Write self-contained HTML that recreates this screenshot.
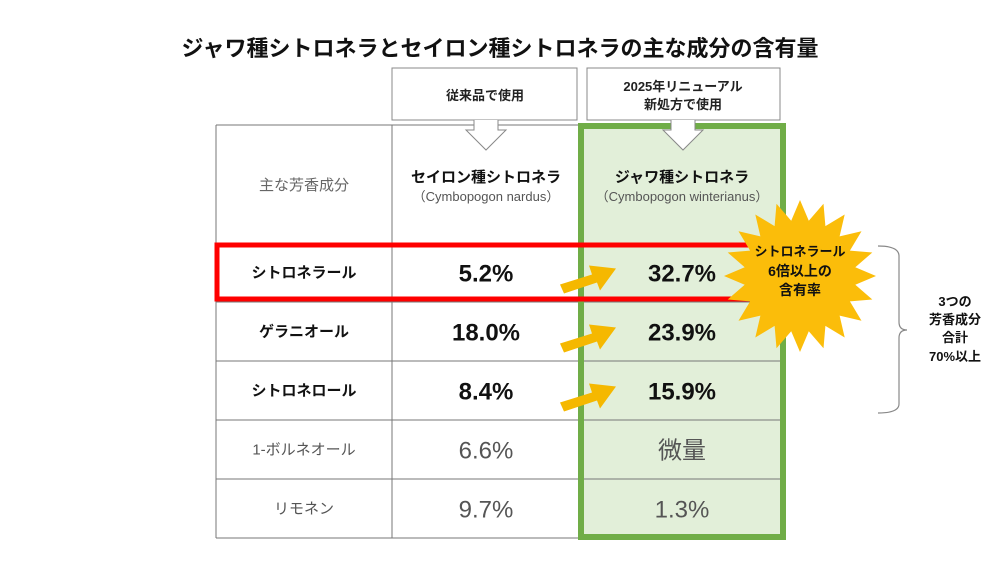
<!DOCTYPE html>
<html><head><meta charset="utf-8"><style>
body{margin:0;background:#fff}
svg text{font-family:"Liberation Sans","Noto Sans CJK JP",sans-serif}
</style></head><body>
<svg width="1000" height="563" viewBox="0 0 1000 563">
<rect width="1000" height="563" fill="#fff"/>
<text x="500" y="56" text-anchor="middle" font-size="22" font-weight="bold" fill="#111">ジャワ種シトロネラとセイロン種シトロネラの主な成分の含有量</text>

<g>
<rect x="581" y="126" width="202" height="411" fill="#e2efd9"/>
</g>
<g id="grid" stroke="#777" stroke-width="1" fill="none"></g>

<g>
<rect x="392" y="68" width="185" height="52" fill="#fff" stroke="#888"/>
<path d="M474 120 L474 130 L466 130 L486 150 L506 130 L498 130 L498 120" fill="#fff" stroke="#888"/>
<text x="485" y="100" text-anchor="middle" font-size="13" font-weight="bold" fill="#222">従来品で使用</text>
</g>

<rect x="581" y="126" width="202" height="411" fill="none" stroke="#70ad47" stroke-width="6"/>

<g>
<rect x="587" y="68" width="193" height="52" fill="#fff" stroke="#888"/>
<path d="M671 120 L671 130 L663 130 L683 150 L703 130 L695 130 L695 120" fill="#fff" stroke="#888"/>
<text x="683" y="91" text-anchor="middle" font-size="13" font-weight="bold" fill="#222">2025年リニューアル</text>
<text x="683" y="109" text-anchor="middle" font-size="13" font-weight="bold" fill="#222">新処方で使用</text>
</g>

<text x="304" y="190" text-anchor="middle" font-size="15" fill="#666">主な芳香成分</text>
<text x="486" y="182" text-anchor="middle" font-size="15" font-weight="bold" fill="#111">セイロン種シトロネラ</text>
<text x="486" y="201" text-anchor="middle" font-size="13" fill="#555">（Cymbopogon nardus）</text>
<text x="682" y="182" text-anchor="middle" font-size="15" font-weight="bold" fill="#111">ジャワ種シトロネラ</text>
<text x="682" y="201" text-anchor="middle" font-size="13" fill="#555">（Cymbopogon winterianus）</text>

<g id="rows"></g>

<rect x="217" y="245" width="560" height="54" fill="none" stroke="#ff0000" stroke-width="5"/>

<g>
<polygon id="star" fill="#fbbd0a"/>
<text x="800" y="256" text-anchor="middle" font-size="13" font-weight="bold" fill="#111">シトロネラール</text>
<text x="800" y="276" text-anchor="middle" font-size="14" font-weight="bold" fill="#111">6倍以上の</text>
<text x="800" y="295" text-anchor="middle" font-size="14" font-weight="bold" fill="#111">含有率</text>
</g>

<path d="M878 246 Q899 246 899 256 L899 322 Q899 330 907 330 Q899 330 899 338 L899 404 Q899 413 878 413" fill="none" stroke="#888" stroke-width="1.2"/>
<g font-size="13" font-weight="bold" fill="#111" text-anchor="middle">
<text x="955" y="306">3つの</text>
<text x="955" y="324">芳香成分</text>
<text x="955" y="342">合計</text>
<text x="955" y="361">70%以上</text>
</g>
</svg>
<script>
const components=["シトロネラール","ゲラニオール","シトロネロール","1-ボルネオール","リモネン"];
const ceylonValues=["5.2%","18.0%","8.4%","6.6%","9.7%"];
const javaValues=["32.7%","23.9%","15.9%","微量","1.3%"];
const boldRows=[true,true,true,false,false];
const NS="http://www.w3.org/2000/svg";
const grid=document.getElementById('grid'),rows=document.getElementById('rows');
const x0=216,x1=392,x2=581,x3=783,yTop=125,hb=243,rh=59;
function ln(ax,ay,bx,by){const l=document.createElementNS(NS,'line');l.setAttribute('x1',ax);l.setAttribute('y1',ay);l.setAttribute('x2',bx);l.setAttribute('y2',by);


grid.appendChild(l);}
const yBottom=hb+rh*components.length;
[x0,x1,x2,x3].forEach(x=>ln(x,yTop,x,yBottom));
ln(x0,yTop,x3,yTop);
for(let i=0;i<=components.length;i++)ln(x0,hb+rh*i,x3,hb+rh*i);
function tx(x,y,s,size,bold,fill,name){const t=document.createElementNS(NS,'text');t.setAttribute('x',x);t.setAttribute('y',y);t.setAttribute('text-anchor','middle');t.setAttribute('font-size',size);if(bold)t.setAttribute('font-weight','bold');t.setAttribute('fill',fill);t.textContent=s;


rows.appendChild(t);}
components.forEach((c,i)=>{const cy=hb+rh*i+rh/2;const b=boldRows[i];
tx(304,cy+5,c,15,b,b?'#111':'#555','component-label');
tx(486,cy+9,ceylonValues[i],24,b,b?'#111':'#555','ceylon-value');
tx(682,cy+9,javaValues[i],24,b,b?'#111':'#555','java-value');
if(b){const p=document.createElementNS(NS,'polygon');
const ax=560,ay=cy+12;
p.setAttribute('points',`${ax},${ay} ${ax+32},${ay-10} ${ax+29},${ay-19} ${ax+56},${ay-16} ${ax+40},${ay+6} ${ax+37},${ay-2} ${ax+4},${ay+9}`);
p.setAttribute('fill','#f5b800');


rows.appendChild(p);}
});
const pts=[];const n=20,scx=800,scy=276;
for(let i=0;i<n*2;i++){const r=i%2?56:76;const a=Math.PI*i/n-Math.PI/2;pts.push((scx+r*Math.cos(a)).toFixed(1)+','+(scy+r*Math.sin(a)).toFixed(1));}
document.getElementById('star').setAttribute('points',pts.join(' '));
</script>
</body></html>
